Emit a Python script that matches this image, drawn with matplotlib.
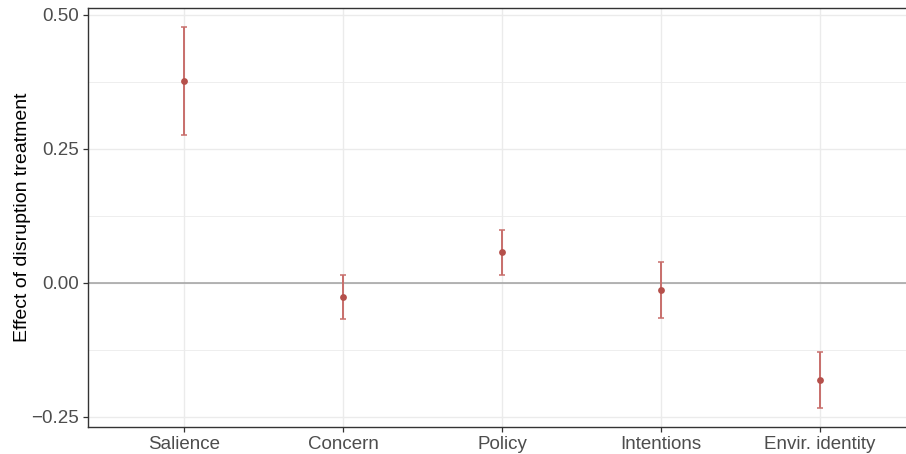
import matplotlib
matplotlib.use("Agg")
import matplotlib.pyplot as plt
from matplotlib.ticker import FixedLocator

categories = ["Salience", "Concern", "Policy", "Intentions", "Envir. identity"]
estimates = [0.377, -0.026, 0.058, -0.013, -0.181]
ci_low = [0.276, -0.067, 0.015, -0.065, -0.233]
ci_high = [0.478, 0.015, 0.099, 0.039, -0.129]
yticks = [-0.25, 0.0, 0.25, 0.50]
ytick_labels = ["\u22120.25", "0.00", "0.25", "0.50"]

plt.rcParams['font.family'] = ['Liberation Sans', 'DejaVu Sans']

fig = plt.figure(figsize=(9.06, 4.54), dpi=100)
ax = fig.add_axes([88/906, 27/454, (906-88)/906, (427-8)/454])

x = list(range(1, len(categories) + 1))

ax.set_xlim(0.396, 5.54)
ax.set_ylim(-0.2687, 0.513)

ax.yaxis.set_major_locator(FixedLocator(yticks))
ax.yaxis.set_minor_locator(FixedLocator([-0.125, 0.125, 0.375]))
ax.grid(True, which='major', color='#EBEBEB', linewidth=1.0, zorder=0)
ax.grid(True, which='minor', axis='y', color='#EBEBEB', linewidth=0.6, zorder=0)
ax.set_axisbelow(True)

ax.axhline(0, color='#A0A0A0', linewidth=1.1, zorder=1)

lower_err = [e - l for e, l in zip(estimates, ci_low)]
upper_err = [h - e for e, h in zip(estimates, ci_high)]
ax.errorbar(x, estimates, yerr=[lower_err, upper_err], fmt='none',
            ecolor='#C86E6B', elinewidth=1.4, capsize=2.2, capthick=1.1, zorder=2)
ax.scatter(x, estimates, s=24, color='#B5504B', zorder=3, linewidths=0)

ax.set_xticks(x)
ax.set_xticklabels(categories)
ax.set_yticks(yticks)
ax.set_yticklabels(ytick_labels)
ax.tick_params(axis='both', which='major', labelsize=13.5, labelcolor='#4D4D4D',
               color='#333333', length=3.5, width=0.9, pad=3)
ax.tick_params(axis='y', which='minor', length=0)

ax.set_ylabel("Effect of disruption treatment", fontsize=14, color='black', labelpad=0.5)

for s in ['left', 'bottom', 'top']:
    ax.spines[s].set_color('#333333')
    ax.spines[s].set_linewidth(1.0)
ax.spines['right'].set_visible(False)

fig.savefig("out.png", dpi=100)
